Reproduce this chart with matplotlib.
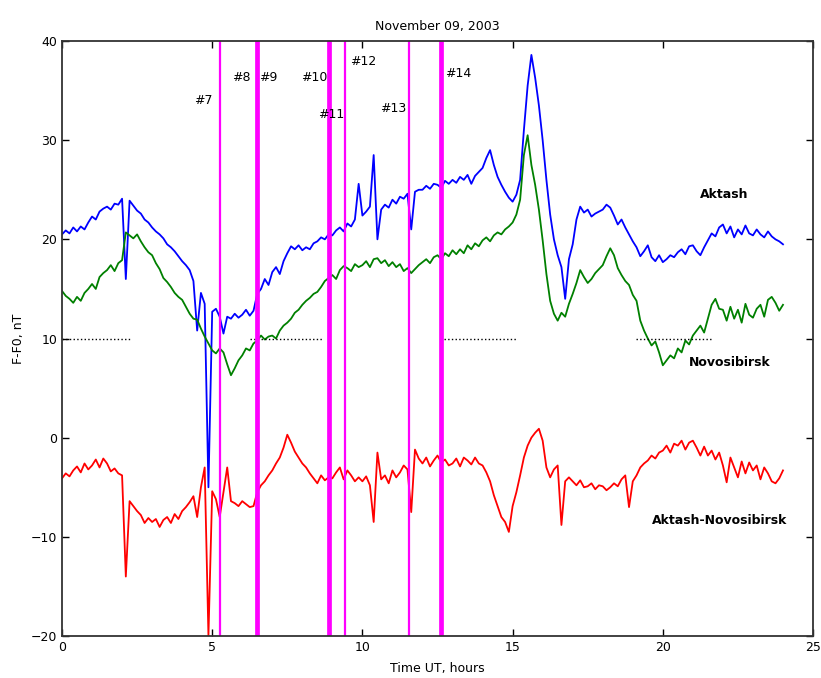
import numpy as np
import matplotlib
matplotlib.use('Agg')
import matplotlib.pyplot as plt

# Time axis: 7.5-minute samples over 24 hours
hours = np.arange(0, 24.0001, 0.125)

# Aktash magnetometer, F-F0 (nT)
aktash = [
    20.5, 20.9, 20.6, 21.2, 20.8, 21.3, 21.0, 21.7,
    22.3, 22.0, 22.8, 23.1, 23.3, 23.0, 23.6, 23.5,
    24.1, 16.0, 23.9, 23.4, 22.9, 22.6, 22.0, 21.7,
    21.2, 20.8, 20.5, 20.1, 19.5, 19.2, 18.8, 18.3,
    17.8, 17.4, 16.9, 15.8, 10.8, 14.6, 13.5, -5.0,
    12.7, 13.0, 12.2, 10.5, 12.2, 12.0, 12.5, 12.1,
    12.4, 12.9, 12.3, 12.8, 14.5, 15.0, 16.0, 15.4,
    16.7, 17.2, 16.5, 17.8, 18.6, 19.3, 19.0, 19.4,
    18.9, 19.2, 19.0, 19.6, 19.8, 20.2, 20.0, 20.5,
    20.4, 20.9, 21.2, 20.8, 21.6, 21.3, 22.0, 25.6,
    22.4, 22.8, 23.3, 28.5, 20.0, 23.0, 23.5, 23.2,
    24.0, 23.6, 24.3, 24.1, 24.6, 21.0, 24.8, 25.0,
    25.0, 25.4, 25.1, 25.6, 25.5, 25.2, 25.9, 25.6,
    26.0, 25.7, 26.3, 26.0, 26.5, 25.6, 26.4, 26.8,
    27.2, 28.2, 29.0, 27.5, 26.3, 25.5, 24.8, 24.2,
    23.8, 24.5, 26.0, 31.0, 35.5, 38.6, 36.3, 33.5,
    30.0, 26.0, 22.5, 20.0, 18.4, 17.2, 14.0, 18.0,
    19.5, 22.0, 23.3, 22.7, 23.0, 22.3, 22.6, 22.8,
    23.0, 23.5, 23.2, 22.4, 21.5, 22.0, 21.2, 20.5,
    19.8, 19.2, 18.3, 18.8, 19.4, 18.2, 17.8, 18.4,
    17.7, 18.0, 18.4, 18.2, 18.7, 19.0, 18.5, 19.3,
    19.4, 18.8, 18.4, 19.2, 19.9, 20.6, 20.3, 21.2,
    21.5, 20.6, 21.3, 20.2, 21.0, 20.5, 21.4, 20.6,
    20.4, 21.0, 20.5, 20.2, 20.8, 20.3, 20.0, 19.8,
    19.5,
]

# Novosibirsk magnetometer, F-F0 (nT)
novosibirsk = [
    14.8, 14.3, 14.0, 13.6, 14.2, 13.8, 14.6, 15.0,
    15.5, 15.0, 16.2, 16.6, 16.9, 17.4, 16.8, 17.6,
    17.9, 20.7, 20.4, 20.1, 20.5, 19.8, 19.2, 18.7,
    18.4, 17.6, 17.0, 16.1, 15.7, 15.2, 14.6, 14.2,
    13.9, 13.2, 12.5, 12.0, 11.9, 11.0, 10.2, 9.5,
    8.8, 8.5, 9.0, 8.6, 7.4, 6.3, 7.0, 7.8,
    8.3, 9.0, 8.8, 9.5, 9.8, 10.3, 9.9, 10.2,
    10.3, 10.0, 10.8, 11.3, 11.6, 12.0, 12.6, 12.9,
    13.4, 13.8, 14.1, 14.5, 14.7, 15.2, 15.8, 16.1,
    16.4, 16.0, 16.9, 17.3, 17.1, 16.8, 17.5, 17.2,
    17.4, 17.8, 17.2, 18.0, 18.1, 17.6, 17.9, 17.3,
    17.7, 17.2, 17.5, 16.8, 17.1, 16.6, 17.0, 17.4,
    17.7, 18.0, 17.6, 18.2, 18.4, 18.0, 18.6, 18.3,
    18.9, 18.5, 19.0, 18.6, 19.4, 19.0, 19.6, 19.3,
    19.9, 20.2, 19.8, 20.4, 20.7, 20.5, 21.0, 21.3,
    21.7, 22.5, 24.0, 28.5, 30.5, 27.5, 25.5, 23.0,
    19.9, 16.5, 13.8, 12.5, 11.8, 12.6, 12.2, 13.5,
    14.5, 15.6, 16.9, 16.2, 15.6, 16.0, 16.6, 17.0,
    17.4, 18.3, 19.1, 18.4, 17.1, 16.4, 15.8, 15.4,
    14.4, 13.8, 11.8, 10.8, 10.0, 9.3, 9.7, 8.6,
    7.3, 7.8, 8.3, 8.0, 9.0, 8.6, 9.8, 9.4,
    10.3, 10.8, 11.3, 10.6, 12.0, 13.4, 14.0, 13.0,
    12.9, 11.8, 13.2, 12.0, 12.9, 11.6, 13.5, 12.4,
    12.1, 13.0, 13.4, 12.2, 13.9, 14.2, 13.6, 12.8,
    13.4,
]

# Difference Aktash-Novosibirsk (nT)
difference = [
    -4.1, -3.6, -3.9, -3.3, -2.9, -3.5, -2.6, -3.2,
    -2.8, -2.2, -3.0, -2.1, -2.6, -3.4, -3.1, -3.6,
    -3.8, -14.0, -6.4, -6.9, -7.4, -7.8, -8.6, -8.1,
    -8.5, -8.2, -9.0, -8.3, -8.0, -8.6, -7.7, -8.2,
    -7.4, -7.0, -6.5, -5.9, -8.0, -5.0, -3.0, -20.0,
    -5.4, -6.2, -8.0, -5.5, -3.0, -6.4, -6.6, -6.9,
    -6.4, -6.7, -7.0, -6.9, -5.5, -4.8, -4.4, -3.8,
    -3.3, -2.6, -2.0, -1.0, 0.3, -0.5, -1.4, -2.0,
    -2.6, -3.0, -3.6, -4.1, -4.6, -3.8, -4.3, -4.0,
    -4.1, -3.5, -3.0, -4.2, -3.3, -3.8, -4.4, -4.0,
    -4.4, -3.9, -4.8, -8.5, -1.5, -4.2, -3.8, -4.6,
    -3.3, -4.0, -3.5, -2.8, -3.2, -7.5, -1.2, -2.1,
    -2.6, -2.0, -2.9, -2.3, -1.8, -2.5, -2.2, -2.8,
    -2.6, -2.1, -2.9, -2.0, -2.3, -2.7, -2.0, -2.6,
    -2.8, -3.5, -4.4, -5.8, -6.9, -8.0, -8.5, -9.5,
    -6.9, -5.5, -3.8, -2.0, -0.8, 0.0, 0.5, 0.9,
    -0.3, -3.0, -4.0, -3.2, -2.8, -8.8, -4.4, -4.0,
    -4.4, -4.8, -4.3, -5.0, -4.9, -4.6, -5.2, -4.8,
    -4.9, -5.3, -5.0, -4.6, -4.9, -4.2, -3.8, -7.0,
    -4.4, -3.8, -3.0, -2.6, -2.3, -1.8, -2.1, -1.5,
    -1.3, -0.8, -1.5, -0.6, -0.8, -0.3, -1.2, -0.5,
    -0.3, -1.0, -1.8, -0.9, -1.8, -1.3, -2.2, -1.5,
    -2.8, -4.5, -2.0, -3.0, -4.0, -2.4, -3.6, -2.5,
    -3.3, -2.8, -4.2, -3.0, -3.6, -4.4, -4.6, -4.1,
    -3.3,
]

# Event markers (hours UT); thick lines mark the stronger events
event_thin = [5.26, 9.42, 11.55]
event_thick = [6.49, 8.89, 12.62]
event_labels = ['#7', '#8', '#9', '#10', '#11', '#12', '#13', '#14']
event_label_x = [4.69, 5.96, 6.86, 8.39, 8.95, 10.02, 11.02, 13.18]
event_label_y = [34.0, 36.3, 36.3, 36.3, 32.6, 37.9, 33.2, 36.7]

# Dotted reference at 10 nT, drawn in pieces
ref_level = 10
ref_start = [0.0, 6.25, 12.7, 19.1]
ref_end = [2.25, 8.7, 15.15, 21.6]

fig = plt.figure(figsize=(8.21, 6.78), dpi=100)
ax = fig.add_axes([0.0755, 0.0619, 0.9148, 0.8776])

ax.plot(hours, aktash, color='#0000ff', lw=1.3)
ax.plot(hours, novosibirsk, color='#008000', lw=1.3)
ax.plot(hours, difference, color='#ff0000', lw=1.3)

for x0, x1 in zip(ref_start, ref_end):
    ax.plot([x0, x1], [ref_level, ref_level], color='black', ls=':', lw=1.0)

for x in event_thin:
    ax.axvline(x, color='#ff00ff', lw=1.6)
for x in event_thick:
    ax.axvline(x, color='#ff00ff', lw=3.4)

for lab, x, y in zip(event_labels, event_label_x, event_label_y):
    ax.text(x, y, lab, ha='center', va='center', fontsize=9)

ax.text(22.04, 24.5, 'Aktash', ha='center', va='center', fontsize=9, fontweight='bold')
ax.text(22.24, 7.6, 'Novosibirsk', ha='center', va='center', fontsize=9, fontweight='bold')
ax.text(21.9, -8.3, 'Aktash-Novosibirsk', ha='center', va='center', fontsize=9,
        fontweight='bold')

ax.set_xlim(0, 25)
ax.set_ylim(-20, 40)
ax.set_xticks([0, 5, 10, 15, 20, 25])
ax.set_yticks([-20, -10, 0, 10, 20, 30, 40])
ax.tick_params(direction='in', top=True, right=True, labelsize=9, length=5, width=1)
for s in ax.spines.values():
    s.set_linewidth(1.3)
    s.set_color('#333333')

ax.set_title('November 09, 2003', fontsize=9, pad=8)
ax.set_xlabel('Time UT, hours', fontsize=9, labelpad=6)
ax.set_ylabel('F-F0, nT', fontsize=9, labelpad=4)

fig.savefig('out.png', dpi=100, facecolor='white')
